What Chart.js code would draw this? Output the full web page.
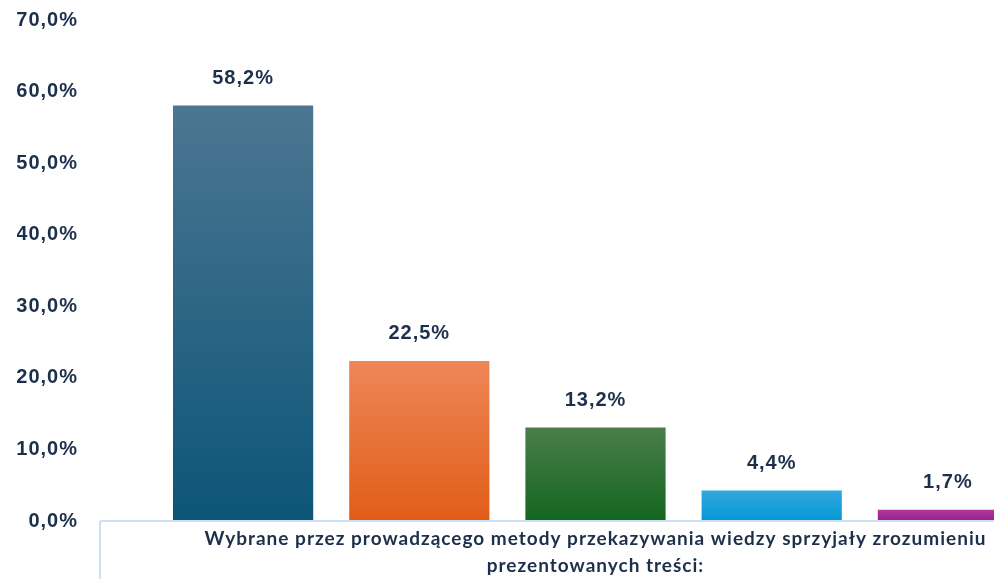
<!DOCTYPE html>
<html>
<head>
<meta charset="utf-8">
<script src="https://cdn.jsdelivr.net/npm/chart.js@4"></script>
<style>
    html, body { margin: 0; padding: 0; background: #fff; overflow: hidden; }
    #wrap { width: 994px; height: 579px; overflow: hidden; }
</style>
</head>
<body>
<div id="wrap"><canvas id="chart" width="1036" height="579"></canvas></div>
<script>
const categories = ['A', 'B', 'C', 'D', 'E'];
const values = [58.2, 22.5, 13.2, 4.4, 1.7];
const topColors = ['#4c7692', '#ef8658', '#4b7e4c', '#34a8e0', '#b03a9e'];
const bottomColors = ['#0c5577', '#e05d17', '#13661f', '#0398d5', '#98208b'];
const axisTitle = ['Wybrane przez prowadzącego metody przekazywania wiedzy sprzyjały zrozumieniu', 'prezentowanych treści:'];

const textColor = '#1c2f4b';
const boxColor = '#cddff3';

function fmt(v) {
    return v.toFixed(1).replace('.', ',') + '%';
}

function barGradient(ctx) {
    const chart = ctx.chart;
    if (!chart.chartArea || ctx.type !== 'data') return topColors[ctx.dataIndex];
    const y = chart.scales.y;
    const top = y.getPixelForValue(values[ctx.dataIndex]);
    const bottom = y.getPixelForValue(0);
    const g = chart.ctx.createLinearGradient(0, top, 0, bottom);
    g.addColorStop(0, topColors[ctx.dataIndex]);
    g.addColorStop(1, bottomColors[ctx.dataIndex]);
    return g;
}

// data labels above bars + title box
const extras = {
    id: 'extras',
    beforeDraw(chart) {
        chart.ctx.letterSpacing = '1px';
    },
    afterDatasetsDraw(chart) {
        const c = chart.ctx;
        const meta = chart.getDatasetMeta(0);
        c.save();
        c.fillStyle = textColor;
        c.font = 'bold 20px "Liberation Sans", Arial, sans-serif';
        c.textAlign = 'center';
        c.textBaseline = 'middle';
        meta.data.forEach((bar, i) => {
            c.fillText(fmt(values[i]), bar.x, bar.y - 26);
        });
        c.restore();
    },
    afterDraw(chart) {
        const c = chart.ctx;
        const y0 = chart.scales.y.getPixelForValue(0);
        c.save();
        c.strokeStyle = boxColor;
        c.lineWidth = 2;
        c.beginPath();
        c.moveTo(100, chart.height);
        c.lineTo(100, y0 + 2);
        c.quadraticCurveTo(100, y0, 102, y0);
        c.lineTo(chart.width, y0);
        c.stroke();
        c.restore();
    }
};

new Chart(document.getElementById('chart').getContext('2d'), {
    type: 'bar',
    data: {
        labels: categories,
        datasets: [{
            data: values,
            backgroundColor: barGradient,
            borderColor: 'rgba(255,255,255,0.35)',
            borderWidth: 1,
            categoryPercentage: 1,
            barPercentage: 0.807
        }]
    },
    options: {
        responsive: false,
        animation: false,
        layout: { padding: { left: 17, top: 20, right: 0, bottom: 0 } },
        plugins: { legend: { display: false }, tooltip: { enabled: false } },
        scales: {
            y: {
                min: 0,
                max: 70,
                afterFit(scale) {
                    scale.width = 138;
                    scale.paddingTop = 0;
                    scale.paddingBottom = 0;
                },
                grid: { display: false, drawTicks: false },
                border: { display: false },
                ticks: {
                    stepSize: 10,
                    padding: 77,
                    color: textColor,
                    font: { family: '"Liberation Sans", Arial, sans-serif', size: 20, weight: 'bold' },
                    callback: (v) => fmt(v)
                }
            },
            x: {
                afterFit(scale) { scale.height = 58; },
                grid: { display: false, drawTicks: false },
                border: { display: false },
                ticks: { display: false },
                title: {
                    display: true,
                    text: axisTitle,
                    color: textColor,
                    padding: { top: 0, bottom: 0 },
                    font: { family: 'Lato, sans-serif', size: 19, weight: 'bold', lineHeight: 1.4 }
                }
            }
        }
    },
    plugins: [extras]
});
</script>
</body>
</html>
